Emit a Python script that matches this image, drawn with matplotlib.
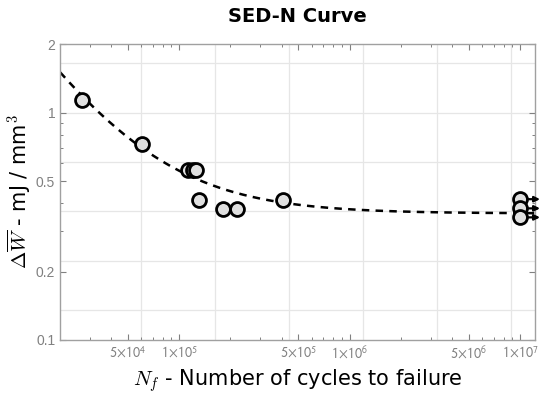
import numpy as np
import matplotlib
matplotlib.use("Agg")
import matplotlib.pyplot as plt
from matplotlib.ticker import FixedLocator, LogLocator, NullFormatter

plt.rcParams['mathtext.fontset'] = 'cm'

# fatigue results: cycles to failure and averaged strain energy density
cycles = [2.68e4, 6.05e4, 1.13e5, 1.21e5, 1.26e5, 1.31e5, 1.82e5, 2.17e5, 4.05e5]
sed = [1.14, 0.724, 0.557, 0.557, 0.557, 0.411, 0.378, 0.378, 0.411]

# run-outs (no failure at the end of the test)
runout_cycles = [1e7, 1e7, 1e7]
runout_sed = [0.416, 0.379, 0.346]

# fitted curve  W = a + b * N^c
fit_a = 0.36
fit_b = 61600.0
fit_c = -1.1

xtick_vals = [5e4, 1e5, 5e5, 1e6, 5e6, 1e7]
xtick_labels = [r'$5\!\times\!10^{4}$', r'$1\!\times\!10^{5}$', r'$5\!\times\!10^{5}$',
                r'$1\!\times\!10^{6}$', r'$5\!\times\!10^{6}$', r'$1\!\times\!10^{7}$']
ytick_vals = [0.1, 0.2, 0.5, 1, 2]
ytick_labels = ['0.1', '0.2', '0.5', '1', '2']

grey = '#808080'

fig = plt.figure(figsize=(5.41, 3.97), dpi=100)
ax = fig.add_axes([0.111, 0.1436, 0.878, 0.7454])
ax.set_xscale('log')
ax.set_yscale('log')
ax.set_xlim(2e4, 1.225e7)
ax.set_ylim(0.1, 2)

# grid lines sit on natural-log steps
for k in range(11, 17):
    ax.axvline(np.exp(k), color='#e6e6e6', lw=0.9, zorder=0)
for k in range(-4, 2):
    ax.axhline(np.exp(k / 2), color='#e6e6e6', lw=0.9, zorder=0)

n = np.logspace(np.log10(2e4), np.log10(1.225e7), 300)
ax.plot(n, fit_a + fit_b * n ** fit_c, ls=(0, (3, 2.5)), color='black', lw=1.8, zorder=2)

for x, y in zip(runout_cycles, runout_sed):
    ax.annotate('', xy=(x * 1.31, y), xytext=(x, y), xycoords='data',
                annotation_clip=False,
                arrowprops=dict(arrowstyle='-|>', color='black', lw=1.6,
                                mutation_scale=8, shrinkA=0, shrinkB=0), zorder=3)

marker_style = dict(ls='none', marker='o', ms=10, mfc='#e0e0e0', mec='black', mew=2.0,
                    zorder=4, clip_on=False)
ax.plot(cycles, sed, **marker_style)
ax.plot(runout_cycles, runout_sed, **marker_style)

ax.xaxis.set_major_locator(FixedLocator(xtick_vals))
ax.set_xticklabels(xtick_labels)
ax.xaxis.set_minor_locator(LogLocator(base=10, subs=np.arange(2, 10)))
ax.xaxis.set_minor_formatter(NullFormatter())
ax.yaxis.set_major_locator(FixedLocator(ytick_vals))
ax.set_yticklabels(ytick_labels)
ax.yaxis.set_minor_locator(LogLocator(base=10, subs=np.arange(2, 10)))
ax.yaxis.set_minor_formatter(NullFormatter())

ax.tick_params(which='both', direction='in', top=True, right=True, color=grey,
               labelcolor=grey, labelsize=10)
ax.tick_params(which='major', length=4, width=0.8)
ax.tick_params(which='minor', length=2.5, width=0.7)
for lab in ax.get_xticklabels() + ax.get_yticklabels():
    lab.set_family('Liberation Sans')
    lab.set_math_fontfamily('stixsans')
for sp in ax.spines.values():
    sp.set_color('#a0a0a0')
    sp.set_linewidth(1.0)

ax.set_title('SED-N Curve', fontsize=14, fontweight='bold', family='DejaVu Sans', pad=16)
ax.set_xlabel(r'$N_f$ - Number of cycles to failure', fontsize=15, family='DejaVu Sans',
              labelpad=4)
ax.set_ylabel(r'$\Delta\overline{W}$ - mJ / mm$^3$', fontsize=15, family='DejaVu Sans',
              labelpad=2)

fig.savefig('out.png', dpi=100)
